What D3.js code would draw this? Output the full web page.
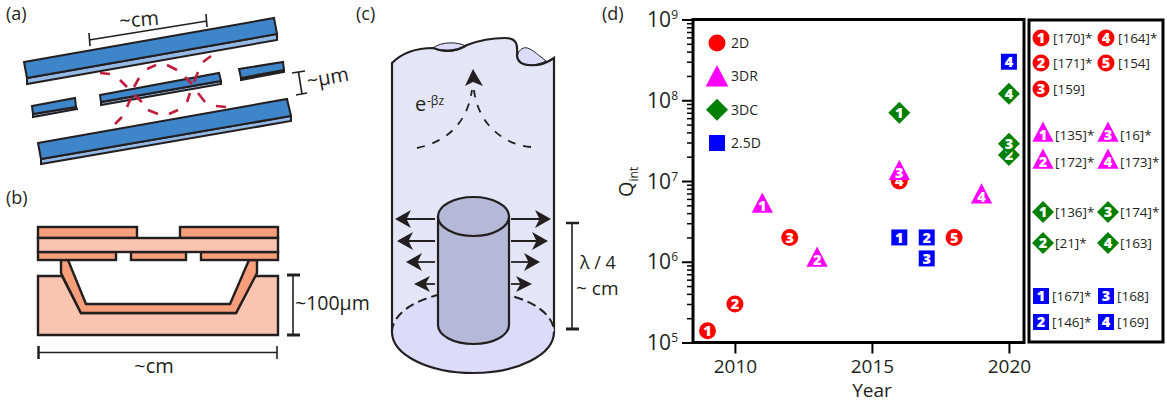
<!DOCTYPE html>
<html>
<head>
<meta charset="utf-8">
<script src="https://cdn.jsdelivr.net/npm/d3@7"></script>
<style>
  html, body { margin: 0; padding: 0; background: #fff; }
  svg { display: block; }
  text { font-family: "Open Sans", "Noto Sans", sans-serif; fill: #231f20; }
</style>
</head>
<body>
<div id="canvas"></div>
<script>
// chart (d) values
const years2D = [2009, 2010, 2012, 2016, 2018];
const q2D = [1.4e5, 3e5, 2e6, 1e7, 2e6];
const years3DR = [2011, 2013, 2016, 2019];
const q3DR = [4.9e6, 1.05e6, 1.25e7, 6.4e6];
const years3DC = [2016, 2020, 2020, 2020];
const q3DC = [7e7, 2.1e7, 2.9e7, 1.2e8];
const years25D = [2016, 2017, 2017, 2020];
const q25D = [2e6, 2e6, 1.1e6, 3e8];

const yearTicks = [2010, 2015, 2020];
const decades = [1e5, 1e6, 1e7, 1e8, 1e9];
const exponents = ["5", "6", "7", "8", "9"];

const legendNames = ["2D", "3DR", "3DC", "2.5D"];
const refs2D = ["[170]*", "[171]*", "[159]", "[164]*", "[154]"];
const refs3DR = ["[135]*", "[172]*", "[16]*", "[173]*"];
const refs3DC = ["[136]*", "[21]*", "[174]*", "[163]"];
const refs25D = ["[167]*", "[146]*", "[168]", "[169]"];

const INK = "#231f20";
const RED = "#ff0000", MAGENTA = "#ff00ff", GREEN = "#008000", BLUE = "#0000ff";

const svg = d3.select("#canvas").append("svg").attr("width", 1167).attr("height", 408);

function label(g, x, y, s, size, anchor) {
  return g.append("text").attr("x", x).attr("y", y).attr("font-size", size)
    .attr("text-anchor", anchor || "start").text(s);
}
function poly(g, pts, fill, w) {
  return g.append("polygon").attr("points", pts.map(p => p.join(",")).join(" "))
    .attr("fill", fill).attr("stroke", INK).attr("stroke-width", w || 2)
    .attr("stroke-linejoin", "miter");
}
function line(g, x1, y1, x2, y2, w, color) {
  return g.append("line").attr("x1", x1).attr("y1", y1).attr("x2", x2).attr("y2", y2)
    .attr("stroke", color || INK).attr("stroke-width", w || 1.5);
}

// ---- panel a
const a = svg.append("g");
label(a, 6, 19.5, "(a)", 18);
const BAR = "#3f85ca", BAR_SIDE = "#93b9e4";
const bars = [
  [[[24, 62], [274, 18], [277, 34], [27, 78]], [[27, 78], [277, 34], [277, 40], [27, 84]]],
  [[[38, 143], [287, 99], [291, 116], [41, 159]], [[41, 159], [291, 116], [291, 121], [41, 164]]],
  [[[100, 95], [219, 73], [221, 81], [101, 102]], [[101, 102], [221, 81], [221, 84], [101, 105]]],
  [[[32, 106], [75, 98], [76, 107], [33, 114]], [[33, 114], [76, 107], [77, 109], [33, 117]]],
  [[[239, 69], [283, 62], [284, 70], [241, 78]], [[241, 78], [284, 70], [284, 72], [241, 80]]]
];
bars.forEach(b => { poly(a, b[1], BAR_SIDE); poly(a, b[0], BAR); });
const dashes = [
  [100, 73, 110, 74], [120, 80, 127, 87], [134, 95, 142, 102], [148, 110, 158, 114],
  [169, 114, 178, 110], [187, 102, 190, 93], [194, 82, 198, 72], [203, 62, 211, 56],
  [115, 124, 122, 117], [127, 107, 131, 98], [134, 87, 139, 78], [147, 69, 156, 65],
  [167, 65, 177, 70], [185, 77, 192, 84], [198, 93, 205, 102], [216, 106, 226, 107]
];
dashes.forEach(d => line(a, d[0], d[1], d[2], d[3], 2.6, "#be1e3c"));
line(a, 89, 40, 207, 21, 1.6);
line(a, 89, 33, 90, 46, 1.6);
line(a, 206, 14, 207, 27, 1.6);
label(a, 0, 0, "~cm", 20).attr("transform", "translate(120,28) rotate(-5)");
line(a, 298.5, 72, 302, 94, 1.6);
line(a, 292, 73, 305, 71, 1.6);
line(a, 296, 95, 307, 93, 1.6);
label(a, 0, 0, "~µm", 20).attr("transform", "translate(308,88) rotate(-10)");

// ---- panel b
const b = svg.append("g");
label(b, 6, 204, "(b)", 18);
const ORANGE = "#f79e7a", PEACH = "#f9c4b0";
poly(b, [[38, 276], [62, 276], [81, 313], [236, 313], [255, 276], [278, 276], [278, 335], [38, 335]], PEACH, 2.4);
poly(b, [[61, 260], [61, 273], [81, 313], [236, 313], [257, 273], [257, 260], [249, 260], [230, 304], [86, 304], [68, 260]], ORANGE, 2.4);
[[38, 227, 99, 11], [180, 227, 98, 11], [38, 252, 78, 8], [131, 252, 55, 8], [201, 252, 77, 8]].forEach(r =>
  b.append("rect").attr("x", r[0]).attr("y", r[1]).attr("width", r[2]).attr("height", r[3])
    .attr("fill", ORANGE).attr("stroke", INK).attr("stroke-width", 2.4));
b.append("rect").attr("x", 38).attr("y", 238).attr("width", 240).attr("height", 14)
  .attr("fill", PEACH).attr("stroke", INK).attr("stroke-width", 2.4);
line(b, 293, 275, 293, 335, 1.6);
line(b, 287, 275, 300, 275, 3);
line(b, 287, 335, 300, 335, 3);
label(b, 295, 310, "~100µm", 19.5);
line(b, 38, 352.5, 277, 352.5, 1.6);
line(b, 38.5, 346, 38.5, 359, 2.5);
line(b, 277, 346, 277, 359, 1.6);
label(b, 154, 373, "~cm", 20, "middle");

// ---- panel c
const c = svg.append("g");
label(c, 356, 19.5, "(c)", 18);
const WALL = "#e4e6f7", FLOOR = "#dcdcfa", POST = "#b5b8d6";
c.append("path")
  .attr("d", "M392,332 L392,63 C400,55 412,48 433,48 C440,51 455,53 467,45 C480,40 495,38 505,38 C520,38 517,50 517,56 C518,68 540,68 554,58 L554,332 Z")
  .attr("fill", WALL).attr("stroke", "none");
c.append("path").attr("d", "M433,48 C442,41 458,42 466,46 C455,53 443,53 433,48 Z").attr("fill", FLOOR).attr("stroke", INK).attr("stroke-width", 1);
c.append("path").attr("d", "M518,53 C525,42 532,50 546,61 C535,67 514,68 518,53 Z").attr("fill", FLOOR).attr("stroke", INK).attr("stroke-width", 1);
c.append("path")
  .attr("d", "M392,332 L392,63 C400,55 412,48 433,48 C440,51 455,53 467,45 C480,40 495,38 505,38 C520,38 517,50 517,56 C518,68 540,68 554,58 L554,332")
  .attr("fill", "none").attr("stroke", INK).attr("stroke-width", 2.2);
c.append("ellipse").attr("cx", 473).attr("cy", 332).attr("rx", 81).attr("ry", 41).attr("fill", FLOOR);
c.append("path").attr("d", "M392,332 A81,41 0 0 0 554,332").attr("fill", "none").attr("stroke", INK).attr("stroke-width", 2.2);
c.append("path").attr("d", "M392,332 A81,41 0 0 1 554,332").attr("fill", "none").attr("stroke", INK)
  .attr("stroke-width", 2).attr("stroke-dasharray", "9 5");
// post
c.append("path").attr("d", "M438,216.5 L438,325 A35.5,19 0 0 0 509,325 L509,216.5 Z")
  .attr("fill", POST).attr("stroke", INK).attr("stroke-width", 2.2);
c.append("ellipse").attr("cx", 473.5).attr("cy", 216.5).attr("rx", 35.5).attr("ry", 19.5)
  .attr("fill", POST).attr("stroke", INK).attr("stroke-width", 2.2);

function arrowHead(g, x, y, dir, len, half) {
  // dir is +1 for right, -1 for left; tip sits at x,y
  const p = [[x, y], [x - dir * len, y - half], [x - dir * len * 0.72, y], [x - dir * len, y + half]];
  g.append("polygon").attr("points", p.map(q => q.join(",")).join(" ")).attr("fill", INK);
}
[[219, 395, 551, 9, 16, 2], [241, 397, 548, 9, 16, 2], [262, 406, 540, 9, 16, 1.8], [284, 414, 532, 8, 16, 1.8]].forEach(r => {
  line(c, r[1] + 8, r[0], 435, r[0], r[5]);
  line(c, 511, r[0], r[2] - 8, r[0], r[5]);
  arrowHead(c, r[1], r[0], -1, r[4], r[3]);
  arrowHead(c, r[2], r[0], 1, r[4], r[3]);
});
c.append("path").attr("d", "M417,148 C445,142 467,125 472,90").attr("fill", "none")
  .attr("stroke", INK).attr("stroke-width", 1.8).attr("stroke-dasharray", "8 8");
c.append("path").attr("d", "M531,147 C505,145 478,125 474,90").attr("fill", "none")
  .attr("stroke", INK).attr("stroke-width", 1.8).attr("stroke-dasharray", "8 8");
c.append("polygon").attr("points", "473,69 483,86 473,82 465,86").attr("fill", INK);
label(c, 415, 111, "e", 20);
label(c, 427, 105, "-βz", 12);
line(c, 572, 223, 572, 329, 1.6);
line(c, 566, 223, 579, 223, 2.5);
line(c, 566, 329, 579, 329, 3);
label(c, 580, 269, "λ / 4", 18);
label(c, 576, 295, "~ cm", 19);

// ---- panel d
const d = svg.append("g");
label(d, 602, 19.5, "(d)", 18);

const x = d3.scaleLinear().domain([2008.47, 2020.55]).range([693, 1024]);
const y = d3.scaleLog().domain([1e5, 1e9]).range([342.5, 19.5]);

// minor ticks are the 2..9 multiples inside each decade
const minors = [];
decades.slice(0, -1).forEach(k => d3.range(2, 10).forEach(m => minors.push(k * m)));

const minorAxis = d3.axisLeft(y).tickValues(minors).tickSize(6).tickFormat("");
const majorAxis = d3.axisLeft(y).tickValues(decades).tickSize(11).tickFormat("");
const bottomAxis = d3.axisBottom(x).tickValues(yearTicks).tickSize(11).tickFormat(d3.format("d"));

d.append("g").attr("transform", "translate(693,0)").call(minorAxis)
  .call(s => s.select(".domain").remove())
  .call(s => s.selectAll("line").attr("stroke", "#000").attr("stroke-width", 1.5));
d.append("g").attr("transform", "translate(693,0)").call(majorAxis)
  .call(s => s.select(".domain").remove())
  .call(s => s.selectAll("line").attr("stroke", "#000").attr("stroke-width", 2));
d.append("g").attr("transform", "translate(0,342.5)").call(bottomAxis)
  .call(s => s.select(".domain").remove())
  .call(s => s.selectAll("line").attr("stroke", "#000").attr("stroke-width", 2))
  .call(s => s.selectAll("text").attr("font-size", 19).attr("y", 17).attr("dy", "0.71em")
    .attr("font-family", "'Open Sans'").attr("fill", INK));

d.append("rect").attr("x", 693).attr("y", 19.5).attr("width", 331).attr("height", 323)
  .attr("fill", "none").attr("stroke", "#000").attr("stroke-width", 3);
d.append("rect").attr("x", 1029).attr("y", 20).attr("width", 134).attr("height", 322)
  .attr("fill", "none").attr("stroke", "#000").attr("stroke-width", 3);

decades.forEach((v, i) => {
  const t = d.append("text").attr("x", 678).attr("y", y(v) + 7.5).attr("text-anchor", "end").attr("font-size", 21);
  t.append("tspan").text("10");
  t.append("tspan").attr("font-size", 12).attr("dy", -8).text(exponents[i]);
});
label(d, 872, 397, "Year", 19, "middle");
const qLabel = d.append("text").attr("transform", "translate(633,197) rotate(-90)").attr("font-size", 20);
qLabel.append("tspan").text("Q");
qLabel.append("tspan").attr("font-size", 12).attr("dy", 5).text("int");

// triangle with its centroid on the point, a bit taller than equilateral
const tallTriangle = {
  draw(ctx, size) {
    const w = Math.sqrt(size * 2 / 0.95), h = 0.95 * w;
    ctx.moveTo(0, -h * 2 / 3);
    ctx.lineTo(w / 2, h / 3);
    ctx.lineTo(-w / 2, h / 3);
    ctx.closePath();
  }
};
const circlePath = d3.symbol(d3.symbolCircle, 227);
const trianglePath = d3.symbol(tallTriangle, 215);
const diamondPath = d3.symbol(d3.symbolSquare, 242);
const squarePath = d3.symbol(d3.symbolSquare, 256);
const bigTrianglePath = d3.symbol(tallTriangle, 245);

function marker(g, kind, px, py, digit) {
  const spec = {
    circle: [circlePath, RED, ""],
    triangle: [digit ? trianglePath : bigTrianglePath, MAGENTA, ""],
    diamond: [diamondPath, GREEN, " rotate(45)"],
    square: [squarePath, BLUE, ""]
  }[kind];
  g.append("path").attr("d", spec[0]()).attr("fill", spec[1])
    .attr("transform", `translate(${px},${py})${spec[2]}`);
  if (digit) {
    g.append("text").attr("x", px).attr("y", py + 5.2).attr("text-anchor", "middle")
      .attr("font-size", 14.5).attr("font-weight", 800).style("fill", "#fff").text(digit);
  }
}

function series(kind, years, qs) {
  years.forEach((yr, i) => marker(d, kind, x(yr), y(qs[i]), String(i + 1)));
}
series("circle", years2D, q2D);
series("triangle", years3DR, q3DR);
series("diamond", years3DC, q3DC);
series("square", years25D, q25D);

// legend inside the axes
const legendKinds = ["circle", "triangle", "diamond", "square"];
const legendY = d3.scalePoint().domain(legendNames).range([43, 143]);
legendNames.forEach((n, i) => {
  marker(d, legendKinds[i], 717, legendY(n) + (i === 1 ? 3 : 0));
  label(d, 731, legendY(n) + 5, n, 14);
});

// reference key on the right
function keyBlock(kind, refs, mx, tx, rows, off) {
  refs.forEach((r, i) => {
    const col = off[i];
    marker(d, kind, mx[col], rows[i], String(i + 1));
    label(d, tx[col], rows[i] + 5, r, 13.5);
  });
}
keyBlock("circle", refs2D, [1041, 1106], [1053, 1118], [38, 63, 89, 38, 63], [0, 0, 0, 1, 1]);
keyBlock("triangle", refs3DR, [1043, 1108], [1055, 1120], [135, 162, 135, 162], [0, 0, 1, 1]);
keyBlock("diamond", refs3DC, [1043, 1108], [1055, 1120], [212, 243, 212, 243], [0, 0, 1, 1]);
keyBlock("square", refs25D, [1041, 1106], [1052, 1117], [296, 322, 296, 322], [0, 0, 1, 1]);
</script>
</body>
</html>
